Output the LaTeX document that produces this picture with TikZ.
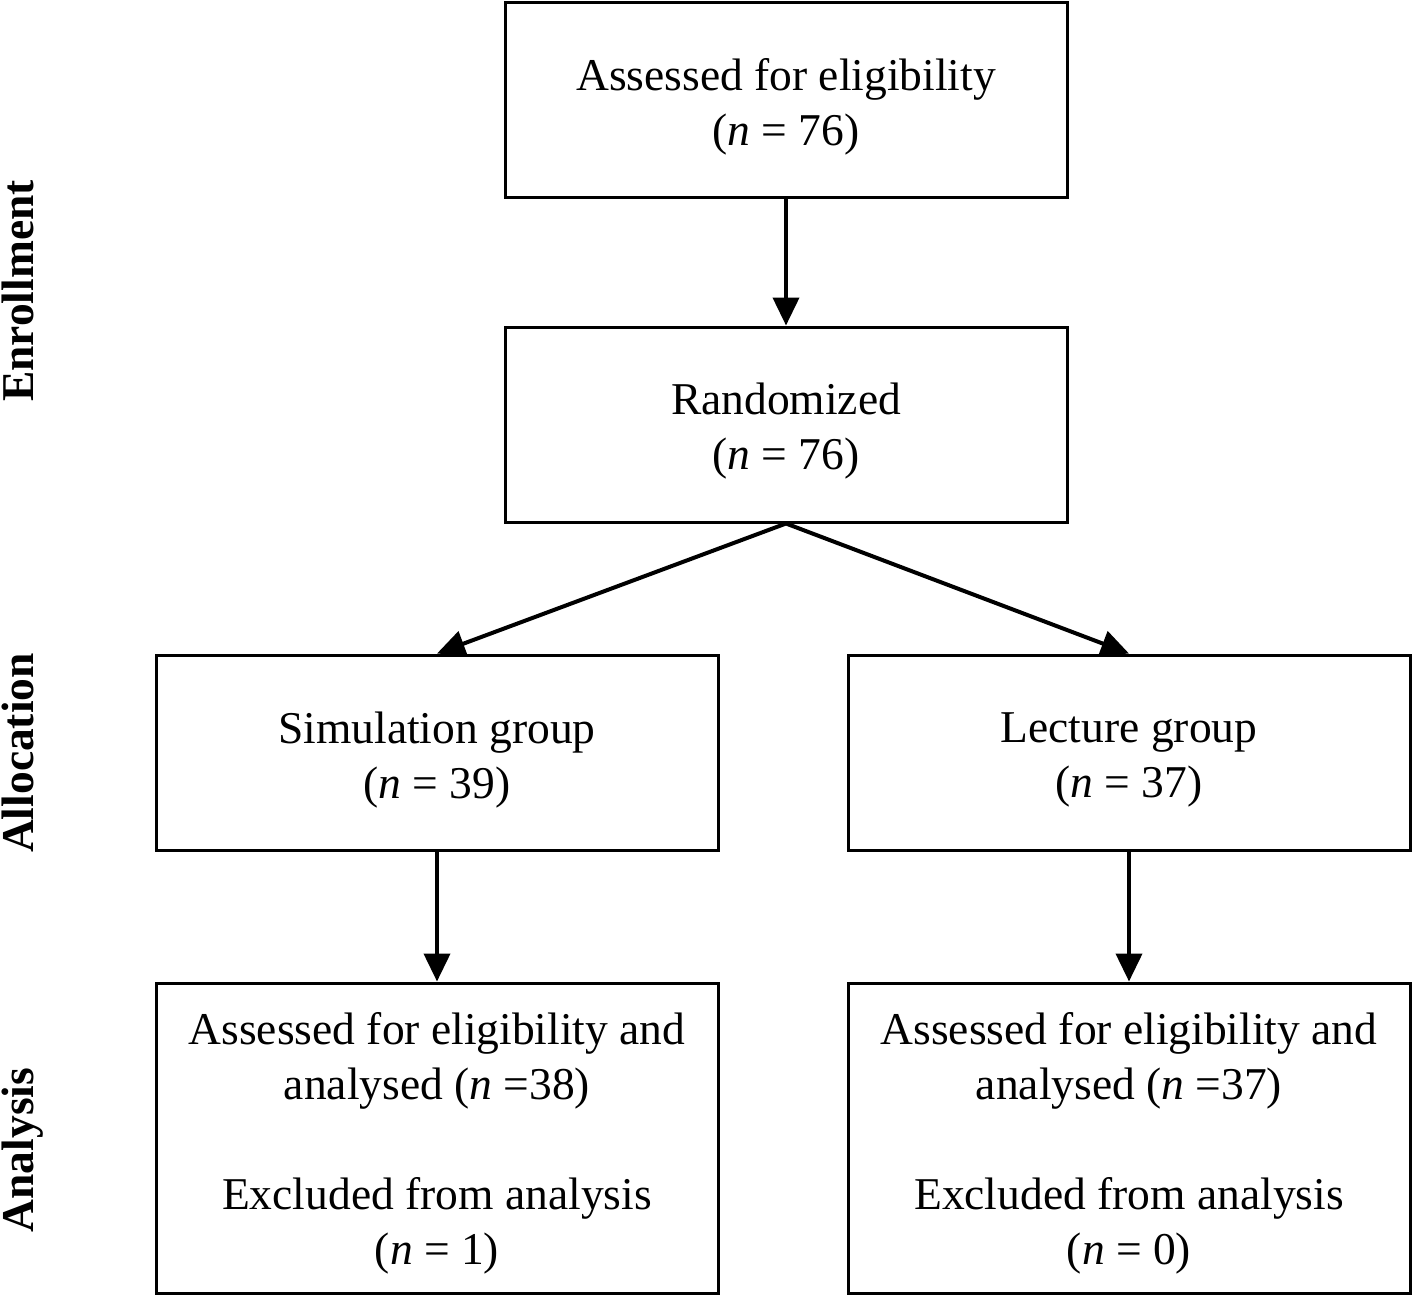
\documentclass[tikz,border=0pt]{standalone}
\usepackage{fontspec}
\setmainfont{Liberation Serif}
\usetikzlibrary{arrows.meta}
\begin{document}
\begin{tikzpicture}[x=0.5pt,y=-0.5pt,
  box/.style={draw,line width=1.5pt,minimum width=281pt,minimum height=97.5pt,inner sep=0pt},
  tall/.style={box,minimum height=155pt},
  txt/.style={inner sep=0pt,align=center,font=\fontsize{22.75}{27.5}\selectfont},
  side/.style={rotate=90,anchor=base,font=\fontsize{22.75}{27.5}\selectfont\bfseries,inner sep=0pt},
  arr/.style={line width=2pt,-{Triangle[length=14pt,width=13pt]}}]
\useasboundingbox (0,0) rectangle (1413,1297);
\node[box] (assess) at (786,99.5) {};
\node[box] (rand) at (786,424.5) {};
\node[box] (sim) at (437,752.5) {};
\node[box] (lec) at (1129,752.5) {};
\node[tall] (simA) at (437,1138) {};
\node[tall] (lecA) at (1129,1138) {};
\node[txt] (assessT) at (786,106.5) {Assessed for eligibility\\(\textit{n} = 76)};
\node[txt] (randT) at (786,431.5) {Randomized\\(\textit{n} = 76)};
\node[txt] (simT) at (437,760) {Simulation group\\(\textit{n} = 39)};
\node[txt] (lecT) at (1129,760) {Lecture group\\(\textit{n} = 37)};
\node[txt] (simAT) at (437,1143) {Assessed for eligibility and\\analysed (\textit{n} =38)\\[27.5pt]Excluded from analysis\\(\textit{n} = 1)};
\node[txt] (lecAT) at (1129,1143) {Assessed for eligibility and\\analysed (\textit{n} =37)\\[27.5pt]Excluded from analysis\\(\textit{n} = 0)};
\node[side] (enr) at (33,291) {Enrollment};
\node[side] (alloc) at (33,753) {Allocation};
\node[side] (anal) at (33,1150) {Analysis};
\draw[arr] (assess.south) -- (rand.north);
\draw[arr] (rand.south) -- (sim.north);
\draw[arr] (rand.south) -- (lec.north);
\draw[arr] (sim.south) -- (simA.north);
\draw[arr] (lec.south) -- (lecA.north);
\end{tikzpicture}
\end{document}
